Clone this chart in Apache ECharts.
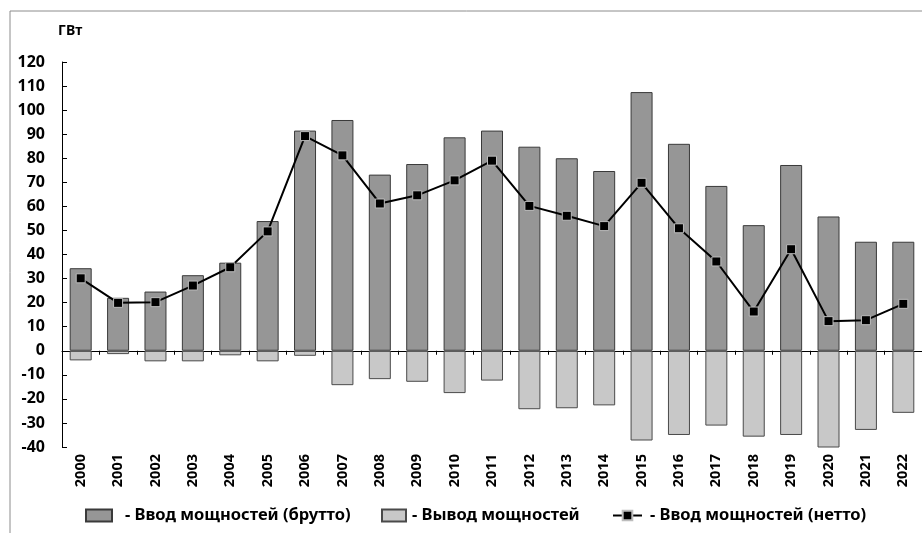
<!DOCTYPE html>
<html>
<head>
<meta charset="utf-8">
<script src="https://cdn.jsdelivr.net/npm/echarts@6/dist/echarts.min.js"></script>
<style>
  html, body { margin: 0; padding: 0; background: #fff; }
  #chart { width: 922px; height: 533px; }
</style>
</head>
<body>
<div id="chart"></div>
<script>
const years = ['2000', '2001', '2002', '2003', '2004', '2005', '2006', '2007', '2008', '2009', '2010', '2011',
  '2012', '2013', '2014', '2015', '2016', '2017', '2018', '2019', '2020', '2021', '2022']
// ввод мощностей (брутто), ГВт
const grossAdded = [34.3, 22.0, 24.6, 31.4, 36.6, 53.9, 91.5, 95.9, 73.2, 77.6, 88.7, 91.5,
  84.8, 80.0, 74.7, 107.5, 86.0, 68.5, 52.2, 77.2, 55.8, 45.3, 45.3]
// вывод мощностей, ГВт
const retired = [-4.0, -1.4, -4.4, -4.4, -1.9, -4.4, -2.1, -14.3, -11.8, -12.9, -17.6, -12.4,
  -24.3, -23.9, -22.7, -37.3, -35.0, -31.1, -35.7, -35.0, -40.5, -32.9, -25.8]
// ввод мощностей (нетто), ГВт
const netAdded = [30.1, 19.9, 20.2, 27.1, 34.7, 49.6, 89.2, 81.2, 61.2, 64.6, 70.8, 79.0,
  60.2, 56.1, 51.8, 69.8, 50.9, 37.1, 16.3, 42.2, 12.3, 12.7, 19.5]

const names = ['- Ввод мощностей (брутто)', '- Вывод мощностей', '- Ввод мощностей (нетто)']
const font = 'Noto Sans'

let myChart = echarts.init(document.getElementById('chart'))

const legendText = { fontFamily: font, fontWeight: 'bold', fontSize: 16.5, color: '#000' }

myChart.setOption({
  animation: false,
  grid: { left: 62, top: 62, width: 862, bottom: 86 },
  graphic: [
    { type: 'rect', shape: { x: 10, y: 11, width: 1000, height: 600 },
      style: { fill: 'none', stroke: '#8c8c8c', lineWidth: 1 } },
    { type: 'text', left: 58, top: 24,
      style: { text: 'ГВт', fontFamily: font, fontWeight: 'bold', fontSize: 14, fill: '#000' } }
  ],
  legend: [
    { data: [{ name: names[0], icon: 'rect' }], left: 80, top: 502, itemWidth: 26, itemHeight: 12,
      textStyle: Object.assign({ padding: [0, 0, 0, 8] }, legendText) },
    { data: [{ name: names[1], icon: 'rect' }], left: 376, top: 502, itemWidth: 24, itemHeight: 12,
      textStyle: Object.assign({ padding: [0, 0, 0, 1] }, legendText) },
    { data: [names[2]], left: 607, top: 502, itemWidth: 29, itemHeight: 12,
      textStyle: Object.assign({ padding: [0, 0, 0, 3] }, legendText) }
  ],
  xAxis: [
    {
      type: 'category', data: years,
      axisLine: { onZero: true, lineStyle: { color: '#000', width: 1 } },
      axisTick: { show: true, length: 4, lineStyle: { color: '#000' } },
      axisLabel: { show: false }
    },
    {
      type: 'category', data: years, position: 'bottom',
      axisLine: { show: false, onZero: false },
      axisTick: { show: false },
      axisLabel: { rotate: 90, margin: 7, fontFamily: font, fontWeight: 'bold', fontSize: 14.5, color: '#000' }
    }
  ],
  yAxis: {
    type: 'value', min: -40, max: 120, interval: 10,
    axisLine: { show: true, lineStyle: { color: '#000' } },
    axisTick: { show: true, inside: true, length: 5, lineStyle: { color: '#000' } },
    splitLine: { show: false },
    axisLabel: { margin: 17, fontFamily: font, fontWeight: 'bold', fontSize: 16, color: '#000' }
  },
  series: [
    {
      name: names[0], type: 'bar', data: grossAdded, barWidth: 22, barGap: '-100%',
      itemStyle: { color: '#969696', borderColor: '#3a3a3a', borderWidth: 1 }
    },
    {
      name: names[1], type: 'bar', data: retired, barWidth: 22,
      itemStyle: { color: '#c8c8c8', borderColor: '#4a4a4a', borderWidth: 1 }
    },
    {
      name: names[2], type: 'line', data: netAdded,
      symbol: 'rect', symbolSize: 9,
      lineStyle: { color: '#000', width: 2 },
      itemStyle: { color: '#000', borderColor: '#bdbdbd', borderWidth: 1 },
      z: 5
    }
  ]
})
window.onresize = function() {
  myChart.resize()
}
</script>
</body>
</html>
